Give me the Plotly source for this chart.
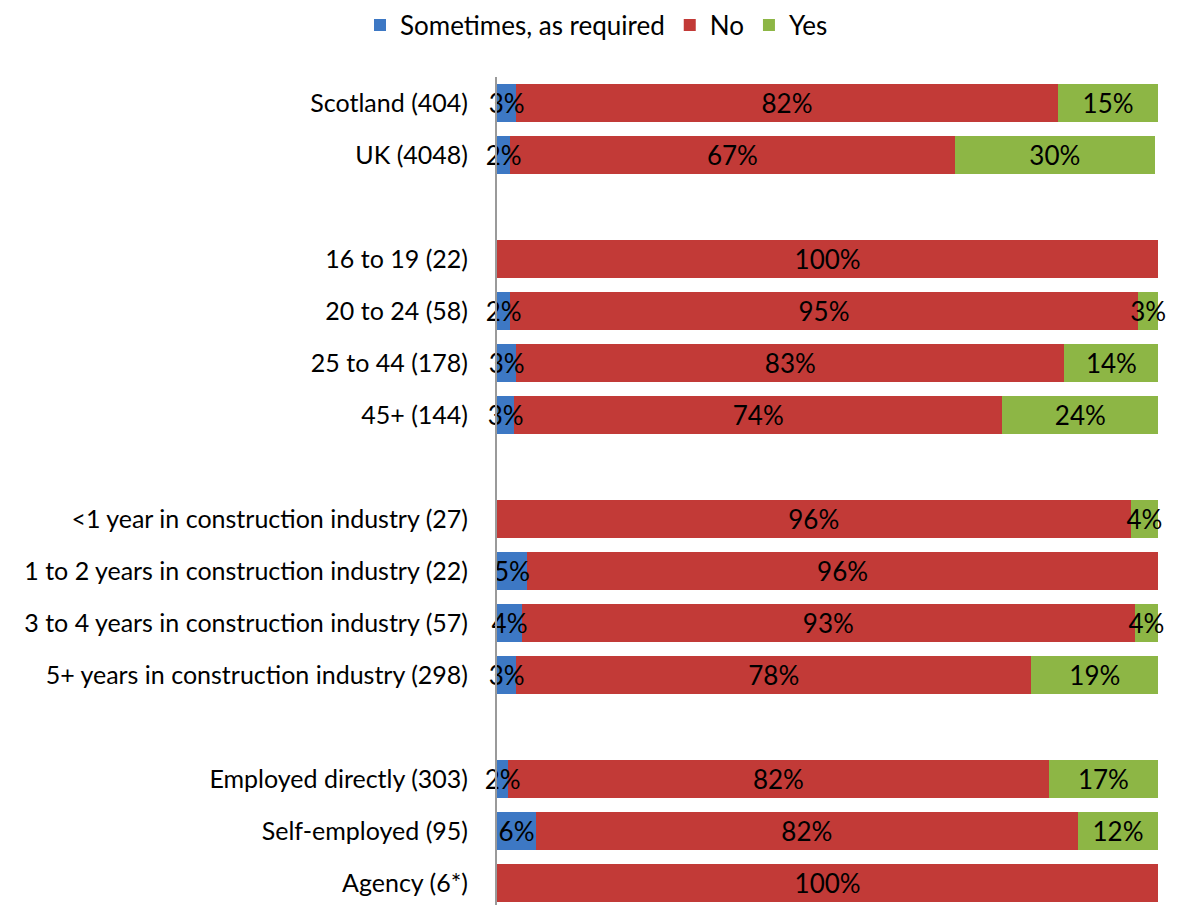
import plotly.graph_objects as go

# rows top to bottom, blank strings are the spacer rows
categories = [
    "Scotland (404)", "UK (4048)", " ",
    "16 to 19 (22)", "20 to 24 (58)", "25 to 44 (178)", "45+ (144)", "  ",
    "<1 year in construction industry (27)", "1 to 2 years in construction industry (22)",
    "3 to 4 years in construction industry (57)", "5+ years in construction industry (298)", "   ",
    "Employed directly (303)", "Self-employed (95)", "Agency (6*)",
]

rows = [
    "Scotland (404)", "UK (4048)",
    "16 to 19 (22)", "20 to 24 (58)", "25 to 44 (178)", "45+ (144)",
    "<1 year in construction industry (27)", "1 to 2 years in construction industry (22)",
    "3 to 4 years in construction industry (57)", "5+ years in construction industry (298)",
    "Employed directly (303)", "Self-employed (95)", "Agency (6*)",
]

sometimes = [2.9, 2.0, 0, 2.0, 2.9, 2.6, 0, 4.5, 3.8, 2.9, 1.7, 5.9, 0]
no = [81.9, 67.2, 100, 94.9, 82.9, 73.8, 95.8, 95.5, 92.6, 77.9, 81.7, 81.9, 100]
yes = [15.2, 30.3, 0, 3.1, 14.2, 23.6, 4.2, 0, 3.6, 19.2, 16.6, 12.2, 0]

series = [
    ("Sometimes, as required", sometimes, "#3D78C4"),
    ("No", no, "#C23A37"),
    ("Yes", yes, "#8DB645"),
]

FONT = "Lato"
SIZE = 26
XMAX = 100.1

fig = go.Figure()
for name, vals, color in series:
    fig.add_trace(go.Bar(
        y=rows, x=vals, name=name, orientation="h",
        marker=dict(color=color, line=dict(width=0)),
        hoverinfo="skip",
    ))

# same stack again on an overlaid axis, transparent, only to carry the labels
# so they sit above every bar and can spill over the segment edges
for name, vals, color in series:
    fig.add_trace(go.Bar(
        y=rows, x=vals, orientation="h", xaxis="x2", showlegend=False,
        marker=dict(color="rgba(0,0,0,0)", line=dict(width=0)),
        texttemplate=["%{x:.0f}%" if v else "" for v in vals],
        textposition="inside", insidetextanchor="middle",
        constraintext="none", textangle=0, cliponaxis=False,
        textfont=dict(family=FONT, size=SIZE, color="black"),
        hoverinfo="skip",
    ))

# page body has an 8px margin, so offsets are shifted by 8
fig.update_layout(
    barmode="stack",
    bargap=0.27,
    width=1177, height=905,
    margin=dict(l=489, r=26, t=69, b=4),
    paper_bgcolor="white", plot_bgcolor="white",
    font=dict(family=FONT, size=SIZE, color="black"),
    showlegend=True,
    legend=dict(orientation="h", x=0.5, xanchor="center", xref="container",
                y=0.981, yanchor="middle", yref="container", traceorder="normal",
                font=dict(family=FONT, size=SIZE), itemwidth=30),
    xaxis=dict(range=[0, XMAX], visible=False),
    xaxis2=dict(range=[0, XMAX], visible=False, overlaying="x"),
    yaxis=dict(categoryorder="array", categoryarray=categories, autorange="reversed",
               showline=True, linecolor="#9A9A9A", linewidth=2, ticks="",
               showgrid=False, ticklabelstandoff=22, automargin=False,
               tickfont=dict(family=FONT, size=25, color="black")),
)

fig.write_html("out.html")
